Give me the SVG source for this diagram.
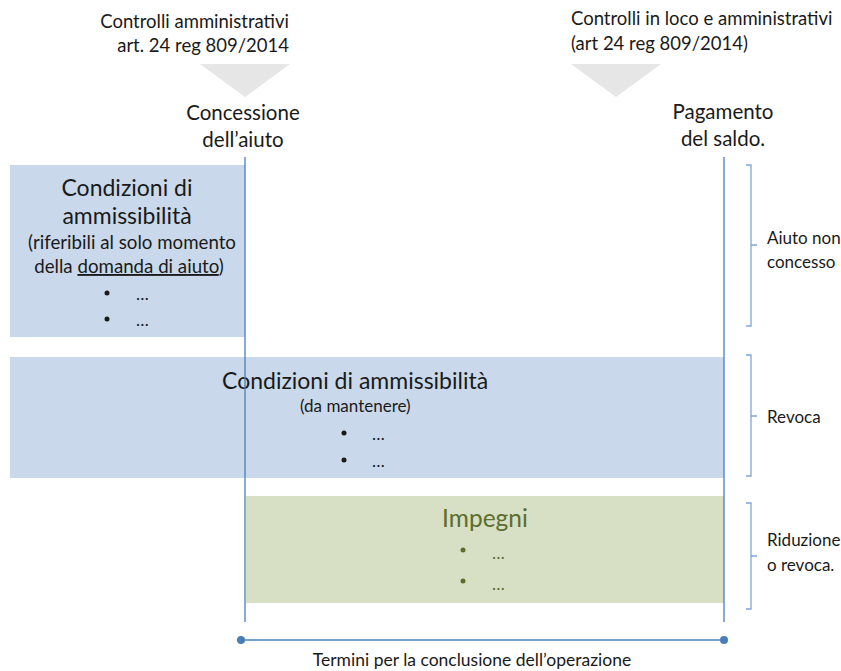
<svg xmlns="http://www.w3.org/2000/svg" width="841" height="671" viewBox="0 0 841 671">
<style>
text{font-family:Lato,"Open Sans","Liberation Sans",sans-serif;fill:#1a1a1a}
.s{font-size:18.5px}
.m{font-size:20.5px}
.t{font-size:23px}
.n{font-size:17px}
.w{font-size:18.7px}
.i{font-size:24.5px}
.tri{fill:#e6e6e6}
.vl{stroke:#4a7ebb;stroke-width:1.3;fill:none}
.br{stroke:#7ea6d8;stroke-width:1.3;fill:none}
.blue{fill:#c9d9eb}
.green{fill:#d7dfc4}
.g{fill:#5b6e2d}
</style>
<rect width="841" height="671" fill="#fff"/>
<g id="ctrl1">
<text class="s" x="289" y="28" text-anchor="end">Controlli amministrativi</text>
<text class="s" x="289" y="52" text-anchor="end">art. 24 reg 809/2014</text>
<polygon class="tri" points="200,64 290,64 245,97"/>
</g>
<g id="ctrl2">
<text class="s" x="571" y="25">Controlli in loco e amministrativi</text>
<text class="s" x="571" y="50">(art 24 reg 809/2014)</text>
<polygon class="tri" points="571,64 661,64 616,97"/>
</g>
<g id="concessione">
<text class="m" x="243" y="120" text-anchor="middle">Concessione</text>
<text class="m" x="243" y="147" text-anchor="middle">dell’aiuto</text>
</g>
<g id="pagamento">
<text class="m" x="723" y="119" text-anchor="middle">Pagamento</text>
<text class="m" x="723" y="146" text-anchor="middle">del saldo.</text>
</g>
<g id="box1">
<rect class="blue" x="10" y="165" width="235" height="172"/>
<text class="t" x="127" y="196" text-anchor="middle">Condizioni di</text>
<text class="t" x="127" y="224" text-anchor="middle">ammissibilità</text>
<text class="w" x="132" y="249" text-anchor="middle">(riferibili al solo momento</text>
<text class="w" x="129" y="273" text-anchor="middle">della <tspan text-decoration="underline">domanda di aiuto</tspan>)</text>
<circle cx="107" cy="293" r="2.5" fill="#1a1a1a"/>
<text class="n" x="136" y="300">…</text>
<circle cx="107" cy="319" r="2.5" fill="#1a1a1a"/>
<text class="n" x="136" y="326">…</text>
</g>
<g id="box2">
<rect class="blue" x="10" y="357" width="714" height="121"/>
<text class="t" x="222" y="389">Condizioni di ammissibilità</text>
<text class="n" x="300" y="412">(da mantenere)</text>
<circle cx="344" cy="433" r="2.5" fill="#1a1a1a"/>
<text class="n" x="372" y="440">…</text>
<circle cx="344" cy="460" r="2.5" fill="#1a1a1a"/>
<text class="n" x="372" y="467">…</text>
</g>
<g id="box3">
<rect class="green" x="246" y="496" width="478" height="107"/>
<text class="i g" x="485" y="527" text-anchor="middle">Impegni</text>
<circle class="g" cx="463" cy="550" r="2.5"/>
<text class="n g" x="492" y="559">…</text>
<circle class="g" cx="463" cy="581" r="2.5"/>
<text class="n g" x="492" y="590">…</text>
</g>
<g id="connectors">
<line class="vl" x1="245" y1="157" x2="245" y2="622"/>
<line class="vl" x1="724" y1="157" x2="724" y2="622"/>
<line class="vl" x1="241" y1="640" x2="724" y2="640"/>
<circle cx="241" cy="640" r="4" fill="#4a7ebb"/>
<circle cx="724" cy="640" r="4" fill="#4a7ebb"/>
<path class="br" d="M746,165 H751 V245 H757 M751,245 V326 H746"/>
<path class="br" d="M746,355 H751 V416 H757 M751,416 V476 H746"/>
<path class="br" d="M746,503 H751 V556 H757 M751,556 V609 H746"/>
</g>
<g id="labels">
<text class="n" x="767" y="244">Aiuto non</text>
<text class="n" x="767" y="268">concesso</text>
<text class="n" x="767" y="423">Revoca</text>
<text class="n" x="767" y="546">Riduzione</text>
<text class="n" x="767" y="571">o revoca.</text>
<text x="472" y="666" text-anchor="middle" style="font-size:17.5px">Termini per la conclusione dell’operazione</text>
</g>
</svg>
